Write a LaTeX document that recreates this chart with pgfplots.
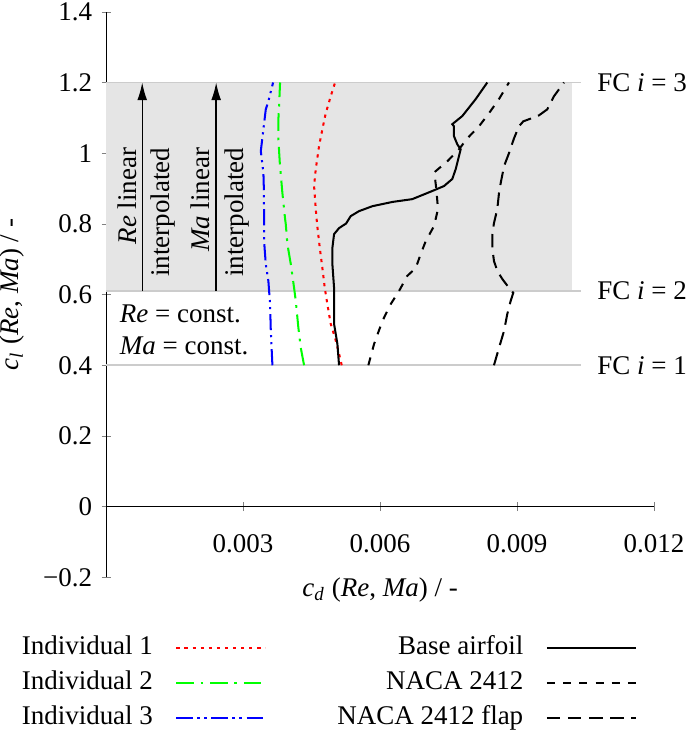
\documentclass[border=0pt]{standalone}
\usepackage{fontspec}
\setmainfont{Liberation Serif}
\usepackage{pgfplots}
\pgfplotsset{compat=1.18}
\usetikzlibrary{arrows.meta}
\definecolor{fcline}{gray}{0.8}
\definecolor{fcfill}{gray}{0.9}
\definecolor{indred}{rgb}{1,0,0}
\definecolor{indgreen}{rgb}{0,1,0}
\definecolor{indblue}{rgb}{0,0,1}
\begin{document}
\begin{tikzpicture}
\begin{axis}[
    scale only axis,
    width=203pt, height=209.6pt,
    xmin=0, xmax=0.012, ymin=-0.2, ymax=1.4,
    axis x line=middle, axis y line=left,
    axis line style={-},
    hide obscured x ticks=false, hide obscured y ticks=false,
    scaled x ticks=false,
    xtick={0.003,0.006,0.009,0.012},
    xticklabels={0.003,0.006,0.009,0.012},
    ytick={-0.2,0,0.2,0.4,0.6,0.8,1,1.2,1.4},
    yticklabels={−0.2,0,0.2,0.4,0.6,0.8,1,1.2,1.4},
    major tick length=3.3pt,
    xticklabel style={yshift=-5pt, inner xsep=0pt},
    yticklabel style={inner ysep=1pt},
    every axis x label/.style={at={(axis description cs:0.5,-0.023)},anchor=center},
    every axis y label/.style={at={(axis description cs:-0.1715,0.5)},rotate=90,anchor=center,inner sep=0pt},
    xlabel={\textit{c}\textsubscript{\textit{d}} (\textit{Re}, \textit{Ma}) / -},
    ylabel={\textit{c}\textsubscript{\textit{l}} (\textit{Re}, \textit{Ma}) / -},
    clip=false,
    legend columns=2,
    legend style={draw=none, fill=none, inner sep=0pt, at={(axis description cs:-0.155,-0.102)}, anchor=north west,
        nodes={inner sep=0pt, text height=7pt, text depth=2pt},
        row sep=4pt,
        /tikz/every odd column/.append style={column sep=8.4pt},
        /tikz/every even column/.append style={column sep=27.2pt}},
    legend plot pos=right,
    legend image code/.code={\draw[#1] plot coordinates {(0pt,0pt) (16.5pt,0pt) (33pt,0pt)};},
]
% flight condition band
\addplot[fill=fcfill, draw=none, forget plot] coordinates {(0,0.61) (0.0102,0.61) (0.0102,1.2) (0,1.2)};
\addplot[fcline, line width=0.6pt, forget plot] coordinates {(0,1.2) (0.0104,1.2)};
\addplot[fcline, line width=0.6pt, forget plot] coordinates {(0,0.61) (0.0104,0.61)};
\addplot[fcline, line width=0.6pt, forget plot] coordinates {(0,0.4) (0.0104,0.4)};
\addplot[black, line width=0.5pt, -{Latex[length=6.5pt,width=3.6pt]}, forget plot] coordinates {(0.00079,0.61) (0.00079,1.2)};
\addplot[black, line width=0.5pt, -{Latex[length=6.5pt,width=3.6pt]}, forget plot] coordinates {(0.00241,0.61) (0.00241,1.2)};
\node[rotate=90, anchor=south east, inner sep=2pt] at (axis cs:0.00079,1.032) {\textit{Re} linear};
\node[rotate=90, anchor=north east, inner sep=3pt] at (axis cs:0.00079,1.04) {interpolated};
\node[rotate=90, anchor=south east, inner sep=2pt] at (axis cs:0.00241,1.032) {\textit{Ma} linear};
\node[rotate=90, anchor=north east, inner sep=3pt] at (axis cs:0.00241,1.04) {interpolated};
\node[anchor=west, inner sep=0pt] at (axis cs:0.00029,0.545) {\textit{Re} = const.};
\node[anchor=west, inner sep=0pt] at (axis cs:0.00029,0.455) {\textit{Ma} = const.};
\node[anchor=west, inner sep=0pt] at (axis cs:0.01075,1.2) {FC \textit{i} = 3};
\node[anchor=west, inner sep=0pt] at (axis cs:0.01075,0.61) {FC \textit{i} = 2};
\node[anchor=west, inner sep=0pt] at (axis cs:0.01075,0.4) {FC \textit{i} = 1};

% Individual 1
\addplot[indred, line width=0.75pt, dash pattern=on 1.2pt off 1.8pt] coordinates {
(0.005161,0.4) (0.005087,0.441) (0.005015,0.477) (0.00492,0.517) (0.004846,0.573)
(0.004789,0.619) (0.004737,0.675) (0.00468,0.732) (0.004620,0.800) (0.004592,0.842)
(0.004555,0.907) (0.004592,0.955) (0.004664,1.020) (0.004737,1.068) (0.004811,1.113)
(0.00492,1.161) (0.005015,1.2)};
\addlegendentry{\makebox[48.5pt][l]{Individual 1}}
% Base airfoil
\addplot[black, line width=0.75pt] coordinates {
(0.005102,0.4) (0.005066,0.460) (0.004993,0.517) (0.004993,0.573) (0.004993,0.619)
(0.004956,0.686) (0.004956,0.732) (0.004993,0.771) (0.005102,0.788) (0.005256,0.801)
(0.005358,0.822) (0.00554,0.836) (0.005832,0.850) (0.00627,0.862) (0.006707,0.870)
(0.007145,0.893) (0.007402,0.907) (0.007583,0.927) (0.007658,0.955) (0.00773,0.992)
(0.007767,1.011) (0.007693,1.025) (0.00762,1.048) (0.00762,1.076) (0.007583,1.082)
(0.007802,1.105) (0.008096,1.153) (0.00835,1.2)};
\addlegendentry{\makebox[68pt][r]{Base airfoil}}
% Individual 2
\addplot[indgreen, line width=0.75pt, dash pattern=on 6.5pt off 2.5pt on 1pt off 2.5pt] coordinates {
(0.004336,0.4) (0.004264,0.449) (0.004211,0.506) (0.004154,0.582) (0.004117,0.619)
(0.004045,0.686) (0.00397,0.743) (0.003935,0.799) (0.00392,0.814) (0.003861,0.887)
(0.003804,0.972) (0.003773,1.040) (0.003773,1.096) (0.003788,1.133) (0.00381,1.2)};
\addlegendentry{\makebox[48.5pt][l]{Individual 2}}
% NACA 2412
\addplot[black, line width=0.75pt, dash pattern=on 3pt off 3pt] coordinates {
(0.005744,0.4) (0.005869,0.460) (0.006051,0.525) (0.006234,0.573) (0.006416,0.610)
(0.006598,0.653) (0.006782,0.675) (0.006892,0.715) (0.007001,0.751) (0.007183,0.794)
(0.00727,0.842) (0.007233,0.898) (0.00719,0.946) (0.007474,0.977) (0.00773,1.011)
(0.007912,1.042) (0.008168,1.076) (0.008387,1.113) (0.008606,1.153) (0.008825,1.2)};
\addlegendentry{\makebox[68pt][r]{NACA 2412}}
% Individual 3
\addplot[indblue, line width=0.75pt, dash pattern=on 6pt off 1.8pt on 0.8pt off 1.8pt on 0.8pt off 1.8pt] coordinates {
(0.003642,0.4) (0.003607,0.497) (0.003591,0.573) (0.003554,0.638) (0.003497,0.686)
(0.00346,0.751) (0.00346,0.822) (0.003453,0.907) (0.003445,0.944) (0.003388,1.006)
(0.003445,1.068) (0.003497,1.124) (0.003554,1.147) (0.003657,1.2)};
\addlegendentry{\makebox[48.5pt][l]{Individual 3}}
% NACA 2412 flap
\addplot[black, line width=0.75pt, dash pattern=on 5pt off 2.8pt] coordinates {
(0.008496,0.4) (0.008606,0.449) (0.008716,0.497) (0.008788,0.545) (0.008862,0.582)
(0.008919,0.605) (0.008825,0.619) (0.008679,0.644) (0.008569,0.667) (0.008496,0.695)
(0.008459,0.732) (0.008459,0.771) (0.008496,0.802) (0.008569,0.842) (0.008606,0.887)
(0.008643,0.915) (0.008716,0.963) (0.008825,1.0) (0.008935,1.042) (0.009044,1.076)
(0.009138,1.090) (0.009263,1.096) (0.009482,1.107) (0.009664,1.124) (0.00981,1.161)
(0.01003,1.2)};
\addlegendentry{\makebox[68pt][r]{NACA 2412 flap}}
\end{axis}
\end{tikzpicture}
\end{document}
